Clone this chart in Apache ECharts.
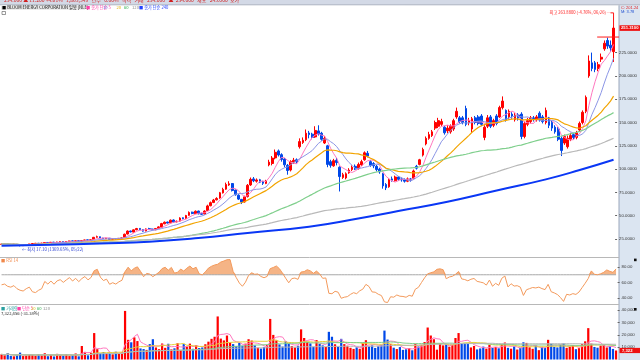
<!DOCTYPE html>
<html><head><meta charset="utf-8">
<script src="https://cdn.jsdelivr.net/npm/echarts@6/dist/echarts.min.js"></script>
<style>html,body{margin:0;padding:0;background:#fff;}#c{width:640px;height:360px;}</style>
</head><body><div id="c"></div>
<script>
const opens = [
19.2,19.4,19.7,19.3,19.0,19.3,18.5,17.8,18.4,19.1,
19.7,20.0,20.5,19.9,20.5,21.3,20.7,21.6,21.0,21.6,
22.2,21.6,22.2,23.0,22.3,23.2,22.5,23.3,24.1,23.4,
24.5,26.9,27.4,26.0,25.3,25.8,24.7,25.4,24.9,25.6,
26.5,30.3,33.6,32.4,34.9,36.4,35.0,33.5,36.0,35.7,
34.9,36.4,37.6,41.3,43.2,42.3,45.4,43.4,44.2,47.8,
47.0,50.4,53.8,52.2,55.0,52.5,51.8,55.5,60.7,64.2,
67.0,69.0,74.5,78.5,83.0,84.5,77.5,72.0,67.5,64.8,
70.5,83.0,89.5,87.0,88.6,86.5,84.6,104.5,106.0,112.0,
119.5,115.5,110.8,104.0,99.0,107.5,110.0,124.0,128.5,131.5,
138.8,137.5,134.5,141.0,138.5,128.0,125.0,108.0,103.5,109.5,
102.0,91.0,90.5,96.0,99.5,103.0,100.5,104.5,110.0,117.0,
108.0,106.0,103.0,100.0,95.0,83.5,81.0,89.5,87.5,91.5,
89.5,88.5,87.0,89.5,90.0,103.0,105.0,115.0,127.0,133.0,
136.0,144.0,146.0,148.0,145.0,141.0,140.0,143.0,156.0,155.0,
155,165,150,143,155,156,157,134,146,156,
147,157,156,166,163,156,159,153,158,159,
135,148,151,155,153,160,156,150,155,150,
145,143,133,128,124,132,137,134,142,150,
162,200,214,214,208,218,229,238,233,226];
const closes = [
19.5,19.8,19.2,18.9,19.4,18.6,17.9,18.3,19.0,19.6,
20.1,20.4,19.9,20.6,21.2,20.8,21.5,21.0,21.8,22.1,
21.7,22.3,22.9,22.4,23.1,22.6,23.4,24.0,23.5,24.2,
26.8,27.5,26.1,25.4,25.9,24.8,25.3,25.0,25.7,26.2,
30.1,33.5,32.6,34.8,36.2,35.0,33.4,35.8,35.6,34.8,
36.3,38.0,41.5,43.0,42.1,45.2,43.2,44.0,47.5,46.8,
50.2,53.5,52.4,54.8,52.0,51.5,55.0,60.5,64.0,66.8,
68.5,74.6,78.2,83.5,84.2,77.0,72.5,67.8,64.6,70.2,
82.6,89.0,87.5,88.4,86.0,84.8,87.2,107.5,111.8,118.0,
115.2,110.4,104.6,98.5,108.2,109.5,107.8,129.5,131.0,138.5,
137.0,134.0,141.5,138.0,132.0,133.0,105.0,104.0,109.0,107.0,
92.0,94.0,95.0,99.0,102.0,100.0,105.0,108.0,117.5,114.0,
104.0,103.5,99.5,97.0,82.0,80.0,89.0,88.0,91.5,89.0,
88.5,87.0,89.5,88.0,98.0,101.0,110.0,121.0,133.0,137.0,
140.0,150.0,152.0,151.0,139.0,144.0,146.0,152.0,162.0,151.0,
150,148,152,154,150,149,148,145,155,146,
152,149,166,173,153,162,157,158,155,135,
149,152,155,154,156,153,151,163,147,144,
140,132,120,135,133,136,134,139,149,161,
177,216,208,207,212,220,235,232,230,251.31];
const highs = [
19.9,20.1,19.9,19.5,19.7,19.5,18.7,18.6,19.3,19.9,
20.4,20.8,20.7,20.9,21.5,21.5,21.8,21.9,22.1,22.5,
22.4,22.6,23.2,23.2,23.4,23.4,23.7,24.3,24.3,24.6,
27.2,28.6,27.6,26.3,26.2,26.0,25.6,25.7,25.9,26.5,
30.8,34.2,34.0,35.3,36.9,36.7,35.4,36.3,37.0,36.1,
36.8,38.6,42.3,43.8,43.6,45.9,46.0,44.8,48.3,48.2,
50.9,54.6,54.3,55.6,55.4,53.2,55.8,61.8,65.2,68.0,
69.8,75.5,80.0,85.5,87.0,85.0,78.0,73.0,68.0,71.5,
84.0,91.0,91.5,90.0,89.5,87.5,88.5,110.0,114.0,121.0,
121.0,117.0,112.0,105.5,109.5,112.0,111.5,133.0,134.0,142.5,
141.0,139.0,146.0,147.0,140.0,135.5,126.0,110.0,111.0,112.0,
103.0,96.0,96.5,101.0,104.0,105.0,107.0,110.0,119.0,119.5,
109.5,107.5,104.5,101.5,96.0,85.0,90.5,92.0,93.0,92.5,
91.0,90.0,91.0,90.5,99.5,104.5,111.0,123.0,135.0,140.0,
142.0,152.0,155.0,154.0,146.5,147.0,148.0,154.0,166.0,157.0,
157,168,155,156,157,158,159,147,158,158,
154,159,168,178,164,164,161,160,160,161,
151,155,157,157,158,162,158,166,156,152,
147,145,135,137,136,139,139,141,151,163,
179,222,225,216,215,224,238,241,238,263.88];
const lows = [
18.9,19.2,19.0,18.6,18.8,18.4,17.1,17.6,18.2,18.9,
19.5,19.8,19.7,19.7,20.3,20.6,20.5,20.8,20.8,21.4,
21.4,21.4,22.0,22.2,22.1,22.4,22.3,23.1,23.3,23.2,
24.3,26.5,25.9,25.0,25.1,24.5,24.5,24.7,24.7,25.4,
26.3,29.8,32.1,32.0,34.4,34.6,32.9,33.2,35.0,34.3,
34.5,36.0,37.2,40.8,41.6,41.9,42.8,42.9,43.8,46.2,
46.6,49.8,51.6,51.9,51.5,50.8,51.4,55.0,60.1,63.5,
66.4,68.2,73.8,77.8,82.0,76.0,71.5,66.8,62.5,64.0,
69.5,82.0,86.0,85.5,85.0,83.0,83.8,103.0,104.0,110.5,
113.5,108.0,102.0,94.0,97.5,105.5,106.0,122.0,127.0,130.0,
133.0,132.0,133.5,136.0,130.5,127.0,102.0,101.5,102.5,104.0,
76.0,89.5,89.0,95.0,98.0,99.0,99.5,103.5,109.0,112.5,
102.5,101.0,97.5,95.0,79.0,77.5,80.0,86.5,86.5,87.5,
86.5,85.5,86.0,86.5,89.0,99.5,104.0,113.5,125.5,131.5,
134.5,142.0,144.0,146.0,137.0,138.5,138.0,141.0,154.0,149.0,
148,146,147,139,148,147,146,131,144,144,
145,147,155,164,151,154,154,151,152,132,
133,146,149,151,151,151,149,148,144,141,
138,130,114,126,122,130,132,132,141,148,
160,198,205,204,205,215,227,229,226,215];
const volumes = [
4200,3500,5200,3000,2600,3800,5600,2800,3200,4100,
3600,2900,4400,3300,5100,2700,3900,2500,4600,3800,
3100,4300,2800,3600,4900,2600,11000,6200,3400,5500,
21500,8400,5200,6100,4800,5600,4200,6300,5000,5900,
39500,16000,14000,18000,15000,9000,8500,7800,12500,16500,
9800,8400,13000,9500,12800,8200,9100,13200,7800,12500,
10500,12900,8700,11800,9300,9800,12400,14500,16800,18500,
35000,17000,15500,19500,14000,12500,10800,13500,11200,12900,
16500,15400,11500,9600,8900,10200,12000,33000,20000,15500,
12300,10500,14800,12700,10900,9800,11200,24500,17500,14200,
13100,10400,15800,12600,11500,10200,22500,18500,12400,10500,
16800,12500,11200,9500,8600,9900,8700,13400,15700,10800,
11500,9400,10800,12000,23500,16200,12400,9600,8500,10100,
7800,8300,9200,7500,12800,10600,11900,14200,26000,19500,
16500,8000,13000,11500,12800,10400,11700,17500,21500,12800,
13500,13000,9800,11000,8200,9000,10500,8800,11900,9400,
10200,9100,12300,13800,9500,8800,10600,8100,9600,14000,
13500,9900,8700,11400,7600,10200,9500,16000,12800,10300,
9800,11700,13000,9500,10500,11800,8400,9200,12500,14800,
25500,12900,10200,9600,11300,12100,9800,10800,8600,7322];
// long (240) price average at a few bars: [bar, value]
const ma240Read = [[0,17.8],[16,18.8],[32,20.3],[48,22.1],[64,26],[80,31.5],[100,38.2],[116,47],[129,55],[145,65],[161,77],[177,89],[188,99],[199,110]];
// RSI of the first 14 bars (before a full 14-bar window exists)
const rsiHead = [57,58,55,54,56,52,50,49,52,54,48,47,50,52];
const maPeriods = [5,10,20,60,120];
const maColors = ['#ff78c0','#8c96e6','#f2a400','#7fcf8c','#b9b9b9'];
const volMaPeriods = [5,20,60,120];
const volMaColors = ['#ff78c0','#e6d23c','#7fcf8c','#b9b9b9'];
const priceTicks = [25,50,75,100,125,150,175,200,225];
const rsiTicks = [40,60,80];
const volTicks = [10000,20000,30000,40000];
const rsiPeriod = 14, rsiLevel = 70;

const N = closes.length;
const categories = closes.map((_, i) => String(i + 1));
function ma(arr, n) {
  return arr.map((_, i) => { const s = Math.max(0, i - n + 1); let t = 0; for (let k = s; k <= i; k++) t += arr[k]; return +(t / (i - s + 1)).toFixed(3); });
}
function rsi(arr, n, head) {
  const out = head.slice(0, n);
  let ag = 0, al = 0;
  for (let i = 1; i <= n; i++) { const d = arr[i] - arr[i - 1]; ag += Math.max(d, 0) / n; al += Math.max(-d, 0) / n; }
  out.push(+(100 - 100 / (1 + ag / al)).toFixed(3));
  for (let i = n + 1; i < arr.length; i++) {
    const d = arr[i] - arr[i - 1];
    ag = (ag * (n - 1) + Math.max(d, 0)) / n; al = (al * (n - 1) + Math.max(-d, 0)) / n;
    out.push(al === 0 ? 100 : +(100 - 100 / (1 + ag / al)).toFixed(3));
  }
  return out;
}
const candle = closes.map((c, i) => [opens[i], c, lows[i], highs[i]]);
const UP = '#ff0000', DOWN = '#0048e8';
const volData = volumes.map((v, i) => ({ value: v, itemStyle: { color: closes[i] >= opens[i] ? UP : DOWN } }));
const rsiVals = rsi(closes, rsiPeriod, rsiHead);
const rsiBase = rsiVals.map(v => v == null ? null : rsiLevel);
const rsiOver = rsiVals.map(v => v == null ? null : Math.max(v - rsiLevel, 0));

let lowIdx = 0, highIdx = 0;
lows.forEach((v, i) => { if (v < lows[lowIdx]) lowIdx = i; });
highs.forEach((v, i) => { if (v > highs[highIdx]) highIdx = i; });
const last = closes[N - 1];
const lowTxt = '← 최저 ' + lows[lowIdx].toFixed(2) + ' (' + ((last / lows[lowIdx] - 1) * 100).toFixed(2) + '%, 05/22)';
const highTxt = '최고 ' + highs[highIdx].toFixed(4) + ' (' + ((last / highs[highIdx] - 1) * 100).toFixed(2) + '%, 06/26)';

const FONT = '"Liberation Sans", Arial, sans-serif';
const KFONT = '"Noto Sans CJK KR", "Liberation Sans", sans-serif';
const chart = echarts.init(document.getElementById('c'), null, { renderer: 'canvas' });

const series = [];
series.push({ type: 'candlestick', name: 'price', xAxisIndex: 0, yAxisIndex: 0, data: candle, barWidth: '72%', z: 3,
  itemStyle: { color: UP, color0: DOWN, borderColor: UP, borderColor0: DOWN, borderWidth: 1 },
  markPoint: { symbol: 'circle', symbolSize: 0, data: [{ coord: [lowIdx, lows[lowIdx]], label: { show: true, formatter: lowTxt, position: 'right', offset: [-3, 3], color: '#2a3fd0', fontSize: 4.3, fontFamily: KFONT } }] }
});
maPeriods.forEach((p, k) => {
  series.push({ type: 'line', name: 'MA' + p, xAxisIndex: 0, yAxisIndex: 0, data: ma(closes, p), showSymbol: false, symbol: 'none', z: 4,
    lineStyle: { color: maColors[k], width: p >= 20 ? 1.2 : 1 } });
});
series.push({ type: 'line', name: 'MA240', xAxisIndex: 0, yAxisIndex: 0, data: ma240Read, smooth: true, showSymbol: false, symbol: 'none', z: 4,
  lineStyle: { color: '#0a37f5', width: 2 } });
// RSI
series.push({ type: 'line', name: 'rsiBase', xAxisIndex: 1, yAxisIndex: 1, data: rsiBase, stack: 'r', showSymbol: false, symbol: 'none',
  lineStyle: { color: '#a8a8a8', width: 1 } });
series.push({ type: 'line', name: 'rsiOver', xAxisIndex: 1, yAxisIndex: 1, data: rsiOver, stack: 'r', showSymbol: false, symbol: 'none',
  lineStyle: { width: 0 }, areaStyle: { color: '#f5b486', opacity: 1 } });
series.push({ type: 'line', name: 'RSI', xAxisIndex: 1, yAxisIndex: 1, data: rsiVals, showSymbol: false, symbol: 'none', z: 5,
  lineStyle: { color: '#f39a5c', width: 1 } });
// volume
series.push({ type: 'bar', name: 'vol', xAxisIndex: 2, yAxisIndex: 2, data: volData, barWidth: '72%' });
volMaPeriods.forEach((p, k) => {
  series.push({ type: 'line', name: 'VMA' + p, xAxisIndex: 2, yAxisIndex: 2, data: ma(volumes, p), showSymbol: false, symbol: 'none', z: 4,
    lineStyle: { color: volMaColors[k], width: 1 } });
});

const axLab = { fontSize: 4.3, color: '#333', fontFamily: FONT, margin: 4 };
const option = {
  animation: false,
  backgroundColor: '#ffffff',
  grid: [
    { left: 0, right: 22.4, top: 6, bottom: 97.7 },
    { left: 0, right: 22.4, top: 259.25, bottom: 54.25 },
    { left: 0, right: 22.4, top: 304.15, bottom: 0.5 }
  ],
  xAxis: [0, 1, 2].map(g => ({ type: 'category', gridIndex: g, data: categories, show: false, boundaryGap: true })),
  yAxis: [
    { type: 'value', gridIndex: 0, position: 'right', min: 0, max: 275, splitLine: { show: false }, axisLine: { show: false },
      axisTick: { show: true, length: 2, customValues: priceTicks, lineStyle: { color: '#666' } },
      axisLabel: Object.assign({ customValues: priceTicks, formatter: v => v.toFixed(4) }, axLab) },
    { type: 'value', gridIndex: 1, position: 'right', min: 30, max: 90, splitLine: { show: false }, axisLine: { show: false },
      axisTick: { show: true, length: 2, customValues: rsiTicks, lineStyle: { color: '#666' } },
      axisLabel: Object.assign({ customValues: rsiTicks, formatter: v => v.toFixed(2) }, axLab) },
    { type: 'value', gridIndex: 2, position: 'right', min: 0, max: 45000, splitLine: { show: false }, axisLine: { show: false },
      axisTick: { show: true, length: 2, customValues: volTicks, lineStyle: { color: '#666' } },
      axisLabel: Object.assign({ customValues: volTicks, formatter: v => v.toLocaleString('en-US') }, axLab) }
  ],
  series: series
};
chart.setOption(option);

// decorations positioned through the chart's own scales
const pHigh = chart.convertToPixel({ gridIndex: 0 }, [highIdx, highs[highIdx]]);
const pClose = chart.convertToPixel({ gridIndex: 0 }, [N - 1, last]);
const pVol = chart.convertToPixel({ gridIndex: 2 }, [N - 1, volumes[N - 1]]);
const pMark = chart.convertToPixel({ gridIndex: 0 }, [N - 6, 241.7]);
const g = [];
g.push({ type: 'rect', z: -10, shape: { x: 0, y: 0, width: 640, height: 4.5 }, style: { fill: '#d3d9e6' } });
g.push({ type: 'line', z: -9, shape: { x1: 0, y1: 4.8, x2: 640, y2: 4.8 }, style: { stroke: '#a9b0bf', lineWidth: 1 } });
g.push({ type: 'text', z: 1, style: { text: '254.000 ▲ 11.200 +4.61%   1,863,349   단주   0.00%   적격   거래   254.000   ▲  254.000   재포   243.000  호가', x: 4, y: -2.5, fill: '#d02020', font: '5px ' + KFONT } });
g.push({ type: 'rect', z: -10, shape: { x: 619, y: 5.3, width: 21, height: 355 }, style: { fill: '#dbe5f1' } });
g.push({ type: 'line', z: -9, shape: { x1: 619, y1: 5.3, x2: 619, y2: 360 }, style: { stroke: '#9aa6bb', lineWidth: 1 } });
g.push({ type: 'line', z: -9, shape: { x1: 0, y1: 257.5, x2: 619, y2: 257.5 }, style: { stroke: '#b8b8b8', lineWidth: 1 } });
g.push({ type: 'line', z: -9, shape: { x1: 0, y1: 304.5, x2: 619, y2: 304.5 }, style: { stroke: '#b8b8b8', lineWidth: 1 } });
// title
g.push({ type: 'rect', z: -8, shape: { x: 1, y: 5.8, width: 84, height: 4 }, style: { fill: '#e6e6e6' } });
const titleParts = [
  ['■ BLOOM ENERGY CORPORATION 일봉 [NLE]', 2, '#000000'],
  ['■ 종가 단순 5', 86, '#ff40a8'], ['10', 103, '#6a78e0'], ['20', 116.5, '#e0b000'], ['60', 124, '#30b050'], ['120', 132, '#8a8a8a'],
  ['■ 종가 단순 240', 139, '#2040ff']
];
titleParts.forEach(t => g.push({ type: 'text', z: 5, style: { text: t[0], x: t[1], y: 5.6, fill: t[2], font: '4.2px ' + KFONT } }));
g.push({ type: 'rect', z: 5, shape: { x: 2, y: 11.5, width: 3.5, height: 3 }, style: { fill: '#fff', stroke: '#555', lineWidth: 0.6 } });
// RSI and volume titles
g.push({ type: 'text', z: 5, style: { text: '■ RSI 14', x: 1, y: 258.6, fill: '#f0884a', font: '4.2px ' + KFONT } });
const volParts = [['■ 거래량', 1, '#2aa0a0'], ['■ 단순 5', 17, '#ff40a8'], ['20', 31, '#d8c020'], ['60', 37, '#30b050'], ['120', 43, '#8a8a8a']];
volParts.forEach(t => g.push({ type: 'text', z: 5, style: { text: t[0], x: t[1], y: 306.2, fill: t[2], font: '4.2px ' + KFONT } }));
g.push({ type: 'text', z: 5, style: { text: '7,322,456 (-31.38%)', x: 1, y: 311, fill: '#222', font: '4.2px ' + KFONT } });
g.push({ type: 'rect', z: 5, shape: { x: 634, y: 258.6, width: 2.6, height: 2.6 }, style: { fill: '#111' } });
g.push({ type: 'rect', z: 5, shape: { x: 634, y: 308, width: 2.6, height: 2.6 }, style: { fill: '#111' } });
// high annotation
g.push({ type: 'text', z: 6, style: { text: highTxt + ' ─', x: pHigh[0] - 2.5, y: pHigh[1] - 3.5, align: 'right', verticalAlign: 'middle', fill: '#ff1a1a', font: '4.2px ' + KFONT } });
g.push({ type: 'polyline', z: 6, shape: { points: [[pHigh[0] - 3, pHigh[1] - 3.5], [pHigh[0], pHigh[1] - 3.5], [pHigh[0], pHigh[1] + 10]] }, style: { stroke: '#ff1a1a', lineWidth: 1, fill: null } });
// red marker line near the last bars
g.push({ type: 'line', z: 6, shape: { x1: pMark[0] - 1, y1: pMark[1], x2: 619, y2: pMark[1] }, style: { stroke: '#ff1a1a', lineWidth: 1 } });
// right panel info and last-value boxes
g.push({ type: 'text', z: 6, style: { text: 'C: 201.24', x: 621, y: 5.8, fill: '#e02020', font: '4px ' + FONT } });
g.push({ type: 'text', z: 6, style: { text: 'M: 3.78', x: 621, y: 10, fill: '#2050d0', font: '4px ' + FONT } });
g.push({ type: 'rect', z: 6, shape: { x: 619.5, y: pClose[1] - 2.8, width: 20.5, height: 5.6 }, style: { fill: '#ee1111' } });
g.push({ type: 'text', z: 7, style: { text: last.toFixed(4), x: 621, y: pClose[1], verticalAlign: 'middle', fill: '#fff', font: 'bold 4.2px ' + FONT } });
g.push({ type: 'rect', z: 6, shape: { x: 619.5, y: pVol[1] - 2.6, width: 20.5, height: 5.2 }, style: { fill: '#ee1111' } });
g.push({ type: 'text', z: 7, style: { text: volumes[N - 1].toLocaleString('en-US'), x: 622, y: pVol[1], verticalAlign: 'middle', fill: '#fff', font: 'bold 4.2px ' + FONT } });
chart.setOption({ graphic: g });
</script>
</body></html>
